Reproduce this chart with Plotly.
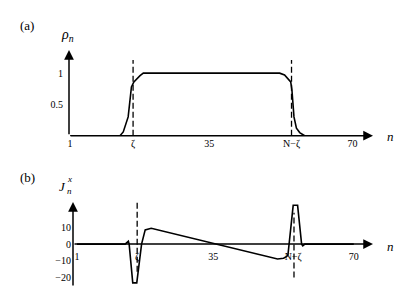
import plotly.graph_objects as go

# ---------------- data ----------------
# Panel (a): density rho_n
n_rho = [1, 13.2, 14.0, 15.2, 16.0, 16.6, 18.1, 18.9, 52.2, 53.4, 54.9, 55.2, 55.7, 56.3, 57.1, 57.9, 58.3, 70]
rho = [0, 0, 0.06, 0.30, 0.78, 0.86, 0.96, 1.0, 1.0, 0.97, 0.86, 0.73, 0.30, 0.12, 0.05, 0.02, 0, 0]

# Panel (b): current J_n^x
n_cur = [1, 13.0, 13.8, 14.0, 14.9, 15.9, 17.1, 18.0, 19.5, 51.0, 52.5, 53.3, 53.6,
         54.9, 56.0, 57.0, 57.3, 57.8, 70]
cur = [0, 0, 1.7, 0, -23.5, -23.5, 0, 8.6, 9.6, -9.0, -8.6, -7.5, -6.4,
       23.5, 23.5, 0, -1.0, 0, 0]

x_tick_text = ["1", "ζ", "35", "N−ζ", "70"]
x_tick_vals_a = [1, 16.4, 35, 55.1, 70]
x_tick_vals_b = [1, 16.0, 35, 54.9, 70]
y_tick_vals_a = [0.5, 1]
y_tick_text_a = ["0.5", "1"]
y_tick_vals_b = [10, 0, -10, -20]
y_tick_text_b = ["10", "0", "−10", "−20"]

# dashed markers at zeta and N-zeta
dash_n_a = [16.4, 55.1]
dash_lo_a = [0, 0]
dash_hi_a = [1.21, 1.21]
dash_n_b = [16.0, 55.1]
dash_lo_b = [-16.7, -20.3]
dash_hi_b = [25.0, 19.0]

# axis extents
xr_a = [0.75, 75.0]
yr_a = [0, 1.37]
xr_b = [0.0, 74.8]
yr_b = [-26, 25.5]

W, H = 415, 307
FONT = "Liberation Serif"


def px_x(p):
    return p / W


def px_y(p):
    return 1 - p / H


fig = go.Figure()

fig.add_trace(go.Scatter(x=n_rho, y=rho, mode="lines", line=dict(color="black", width=1.6),
                         xaxis="x", yaxis="y", showlegend=False, hoverinfo="skip"))
for xn, lo, hi in zip(dash_n_a, dash_lo_a, dash_hi_a):
    fig.add_trace(go.Scatter(x=[xn, xn], y=[lo, hi], mode="lines",
                             line=dict(color="black", width=1.3, dash="6px,3px"),
                             xaxis="x", yaxis="y", showlegend=False, hoverinfo="skip", cliponaxis=False))

fig.add_trace(go.Scatter(x=n_cur, y=cur, mode="lines", line=dict(color="black", width=1.6),
                         xaxis="x2", yaxis="y2", showlegend=False, hoverinfo="skip"))
for xn, lo, hi in zip(dash_n_b, dash_lo_b, dash_hi_b):
    fig.add_trace(go.Scatter(x=[xn, xn], y=[lo, hi], mode="lines",
                             line=dict(color="black", width=1.3, dash="6px,3px"),
                             xaxis="x2", yaxis="y2", showlegend=False, hoverinfo="skip", cliponaxis=False))

axis_common = dict(showgrid=False, zeroline=False, showline=False, ticks="",
                   tickfont=dict(family=FONT, size=10, color="black"))

fig.update_layout(
    width=W, height=H,
    margin=dict(l=0, r=0, t=0, b=0),
    paper_bgcolor="white", plot_bgcolor="white",
    xaxis=dict(domain=[px_x(69), px_x(373)], range=xr_a, anchor="y",
               tickvals=x_tick_vals_a, ticktext=x_tick_text, **axis_common),
    yaxis=dict(domain=[px_y(135.7), px_y(50)], range=yr_a, anchor="x",
               tickvals=y_tick_vals_a, ticktext=y_tick_text_a, ticklabelstandoff=5, **axis_common),
    xaxis2=dict(domain=[px_x(73), px_x(373)], range=xr_b, anchor="free", position=px_y(244.5),
                tickvals=x_tick_vals_b, ticktext=x_tick_text, ticklabelstandoff=4, **axis_common),
    yaxis2=dict(domain=[px_y(287), px_y(202)], range=yr_b, anchor="x2",
                tickvals=y_tick_vals_b, ticktext=y_tick_text_b, ticklabelstandoff=1, **axis_common),
)

arrow = dict(showarrow=True, arrowhead=2, arrowsize=1.3, arrowwidth=1.5, arrowcolor="black", text="")
# axes with arrows (panel a)
fig.add_annotation(x=xr_a[1], y=0, ax=xr_a[0], ay=0, xref="x", yref="y", axref="x", ayref="y", **arrow)
fig.add_annotation(x=xr_a[0], y=yr_a[1], ax=xr_a[0], ay=0, xref="x", yref="y", axref="x", ayref="y", **arrow)
# axes with arrows (panel b)
fig.add_annotation(x=xr_b[1], y=0, ax=xr_b[0], ay=0, xref="x2", yref="y2", axref="x2", ayref="y2", **arrow)
fig.add_annotation(x=xr_b[0], y=yr_b[1], ax=xr_b[0], ay=yr_b[0], xref="x2", yref="y2", axref="x2", ayref="y2", **arrow)


def label(text, x, y, size):
    fig.add_annotation(text=text, x=px_x(x), y=px_y(y), xref="paper", yref="paper",
                       showarrow=False, xanchor="center", yanchor="middle",
                       font=dict(family=FONT, size=size, color="black"))


label("(a)", 27, 25, 13)
label("<i>ρ</i><sub><i>n</i></sub>", 67, 35, 14)
label("<i>n</i>", 390, 136, 13)
label("(b)", 27, 177, 13)
label("<i>J</i>", 62, 186, 13)
label("<i>x</i>", 69, 179, 9)
label("<i>n</i>", 69, 191, 9)
label("<i>n</i>", 390, 246, 13)

fig.write_html("out.html", config={"displayModeBar": False},
               post_script="document.body.style.margin='0';")
